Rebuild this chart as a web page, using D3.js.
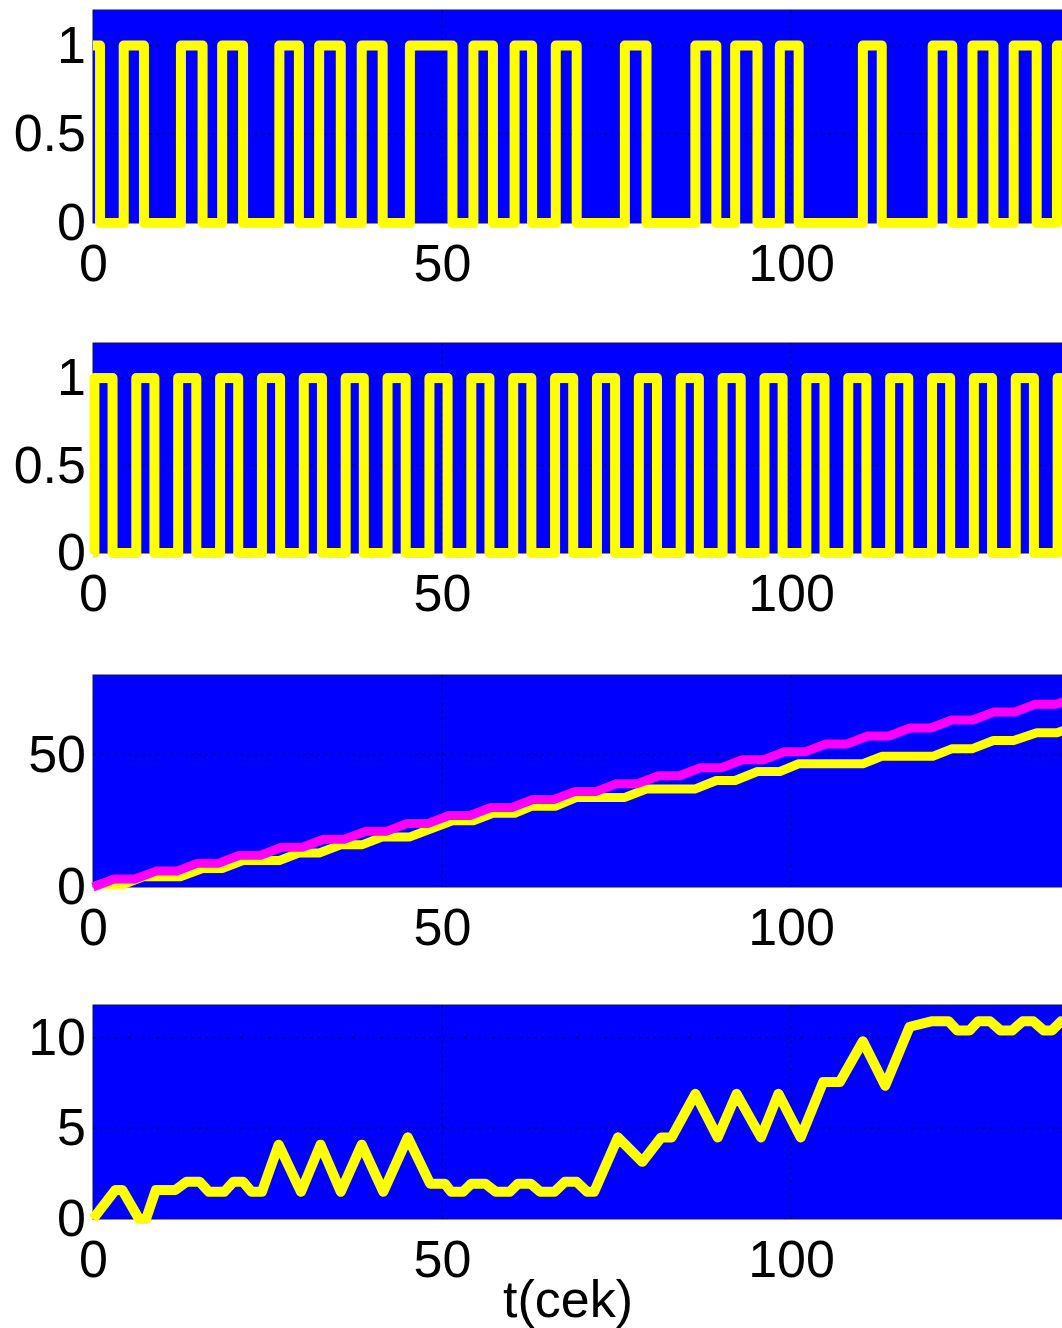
<!DOCTYPE html>
<html>
<head>
<meta charset="utf-8">
<script src="https://cdn.jsdelivr.net/npm/d3@7/dist/d3.min.js"></script>
<style>
	body { margin: 0; background: #fff; }
	svg { display: block; }
</style>
</head>
<body>
<div id="container"></div>
<script>
// 1. Access the data

const timeTicks = [0, 50, 100]

// panel 1: irregular pulse train (switch times and the level after each switch)
const pulse1Times = [0, 1, 4.4, 7.3, 12.6, 15.7, 18.5, 21.5, 26.7, 29.5, 32.4, 35.5, 38.5, 41.5, 45.4, 51.5, 54.5, 57.3, 60.4, 62.9, 66.3, 69.3, 76.2, 79.3, 86.3, 89.3, 92, 95.2, 98.4, 101.1, 110.3, 113, 120.3, 123.1, 126, 129, 131.9, 135.2, 138.1, 140]
const pulse1Levels = [1, 0, 1, 0, 1, 0, 1, 0, 1, 0, 1, 0, 1, 0, 1, 0, 1, 0, 1, 0, 1, 0, 1, 0, 1, 0, 1, 0, 1, 0, 1, 0, 1, 0, 1, 0, 1, 0, 1, 1]

// panel 2: regular pulse train
const pulse2Times = [0, 0.2, 2.8, 6.2, 8.8, 12.2, 14.8, 18.2, 20.8, 24.2, 26.8, 30.2, 32.8, 36.2, 38.8, 42.2, 44.8, 48.2, 50.8, 54.2, 56.8, 60.2, 62.8, 66.2, 68.8, 72.2, 74.8, 78.2, 80.8, 84.2, 86.8, 90.2, 92.8, 96.2, 98.8, 102.2, 104.8, 108.2, 110.8, 114.2, 116.8, 120.2, 122.8, 126.2, 128.8, 132.2, 134.8, 138.2, 140]
const pulse2Levels = [0, 1, 0, 1, 0, 1, 0, 1, 0, 1, 0, 1, 0, 1, 0, 1, 0, 1, 0, 1, 0, 1, 0, 1, 0, 1, 0, 1, 0, 1, 0, 1, 0, 1, 0, 1, 0, 1, 0, 1, 0, 1, 0, 1, 0, 1, 0, 1, 1]

// panel 3: two accumulated totals
const totalMagentaTimes = [0, 3, 6, 9, 12, 15, 18, 21, 24, 27, 30, 33, 36, 39, 42, 45, 48, 51, 54, 57, 60, 63, 66, 69, 72, 75, 78, 81, 84, 87, 90, 93, 96, 99, 102, 105, 108, 111, 114, 117, 120, 123, 126, 129, 132, 135, 138, 140]
const totalMagentaValues = [0, 3, 3, 6, 6, 9, 9, 12, 12, 15, 15, 18, 18, 21, 21, 24, 24, 27, 27, 30, 30, 33, 33, 36, 36, 39, 39, 42, 42, 45, 45, 48, 48, 51, 51, 54, 54, 57, 57, 60, 60, 63, 63, 66, 66, 69, 69, 71]
const totalYellowTimes = [0, 1, 4.4, 7.3, 12.6, 15.7, 18.5, 21.5, 26.7, 29.5, 32.4, 35.5, 38.5, 41.5, 45.4, 51.5, 54.5, 57.3, 60.4, 62.9, 66.3, 69.3, 76.2, 79.3, 86.3, 89.3, 92, 95.2, 98.4, 101.1, 110.3, 113, 120.3, 123.1, 126, 129, 131.9, 135.2, 138.1, 140]
const totalYellowValues = [0, 1, 1, 3.9, 3.9, 7, 7, 10, 10, 12.8, 12.8, 15.9, 15.9, 18.9, 18.9, 25, 25, 27.8, 27.8, 30.5, 30.5, 33.8, 33.8, 37, 37, 40.2, 40.2, 43.6, 43.6, 46.5, 46.5, 49.3, 49.3, 52.2, 52.2, 55.3, 55.3, 58.2, 58.2, 60]

// panel 4: difference signal
const diffTimes = [0, 3.2, 4.2, 6.6, 7.6, 9, 11.8, 13.4, 15.3, 16.6, 18.8, 20.1, 21.5, 22.7, 24.2, 26.6, 29.8, 32.6, 35.5, 38.5, 41.6, 45.1, 48.3, 50.4, 51.3, 53, 54.2, 56.2, 57.7, 59.7, 60.9, 62.7, 64.1, 66.1, 67.6, 69.3, 70.8, 71.8, 75.2, 78.7, 81.4, 82.9, 86.3, 89.5, 92.2, 95.7, 98.2, 101.4, 104.6, 107, 110.3, 113.5, 117, 120.1, 122.6, 123.8, 125.6, 126.8, 128.5, 130, 131.7, 133.2, 134.7, 136.2, 137.4, 138.7, 140]
const diffValues = [0, 1.6, 1.6, 0, 0, 1.6, 1.6, 2.05, 2.05, 1.5, 1.5, 2.05, 2.05, 1.5, 1.5, 4.1, 1.5, 4.1, 1.5, 4.1, 1.5, 4.5, 1.95, 1.95, 1.5, 1.5, 1.95, 1.95, 1.5, 1.5, 1.95, 1.95, 1.5, 1.5, 2.05, 2.05, 1.5, 1.5, 4.5, 3.15, 4.5, 4.5, 6.9, 4.5, 6.9, 4.5, 6.9, 4.5, 7.55, 7.55, 9.8, 7.35, 10.6, 10.9, 10.9, 10.4, 10.4, 10.9, 10.9, 10.4, 10.4, 10.9, 10.9, 10.4, 10.4, 10.9, 10.9]

// 2. Create chart dimensions
const width = 1062
const height = 1328
const left = 93
const xMax = 140
const pxPerSecond = 6.98

const panels = [
	{ top: 10, bottom: 223, yMax: 1.2, yTicks: [0, 0.5, 1],
		series: [{ t: pulse1Times, v: pulse1Levels, color: "#ffff00", width: 10, step: true }] },
	{ top: 343, bottom: 553, yMax: 1.2, yTicks: [0, 0.5, 1],
		series: [{ t: pulse2Times, v: pulse2Levels, color: "#ffff00", width: 10, step: true }] },
	{ top: 675, bottom: 887, yMax: 80, yTicks: [0, 50],
		series: [
			{ t: totalYellowTimes, v: totalYellowValues, color: "#ffff00", width: 9 },
			{ t: totalMagentaTimes, v: totalMagentaValues, color: "#ff00ff", width: 9 },
		] },
	{ top: 1005, bottom: 1219, yMax: 11.8, yTicks: [0, 5, 10],
		series: [{ t: diffTimes, v: diffValues, color: "#ffff00", width: 10 }] },
]

const font = "'Liberation Sans', Arial, Helvetica, sans-serif"
const fontSize = 52

// 3. Draw canvas
const svg = d3.select("#container")
	.append("svg")
	.attr("width", width)
	.attr("height", height)
	.style("font-family", font)

// 4. Create scales
const xScale = d3.scaleLinear()
	.domain([0, xMax])
	.range([left, left + xMax * pxPerSecond])

// 5. Draw data
panels.forEach(panel => {
	const yScale = d3.scaleLinear()
		.domain([0, panel.yMax])
		.range([panel.bottom, panel.top])

	const g = svg.append("g")

	g.append("rect")
		.attr("x", xScale(0))
		.attr("y", panel.top)
		.attr("width", xScale(xMax) - xScale(0))
		.attr("height", panel.bottom - panel.top)
		.attr("fill", "#0000ff")
		.attr("stroke", "#10105a")
		.attr("stroke-width", 1)

	// dotted grid
	g.selectAll(".vgrid")
		.data(timeTicks.filter(d => d > 0))
		.join("line")
		.attr("x1", d => xScale(d))
		.attr("x2", d => xScale(d))
		.attr("y1", panel.top)
		.attr("y2", panel.bottom)
		.attr("stroke", "#0000b4")
		.attr("stroke-width", 2)
		.attr("stroke-dasharray", "3,4")

	g.selectAll(".hgrid")
		.data(panel.yTicks.filter(d => d > 0))
		.join("line")
		.attr("x1", xScale(0))
		.attr("x2", xScale(xMax))
		.attr("y1", d => yScale(d))
		.attr("y2", d => yScale(d))
		.attr("stroke", "#0000b4")
		.attr("stroke-width", 2)
		.attr("stroke-dasharray", "3,4")

	panel.series.forEach(s => {
		const line = d3.line()
			.x(d => xScale(d[0]))
			.y(d => yScale(d[1]))
			.curve(s.step ? d3.curveStepAfter : d3.curveLinear)

		g.append("path")
			.datum(d3.zip(s.t, s.v))
			.attr("d", line)
			.attr("fill", "none")
			.attr("stroke", s.color)
			.attr("stroke-width", s.width)
			.attr("stroke-linejoin", "round")
			.attr("stroke-linecap", "butt")
	})

	// 6. Draw peripherals (axes)
	const xAxis = g.append("g")
		.attr("transform", `translate(0, ${panel.bottom})`)
		.call(d3.axisBottom(xScale).tickValues(timeTicks).tickSize(0).tickPadding(21))
	xAxis.select(".domain").remove()
	xAxis.selectAll("text")
		.attr("font-size", fontSize)
		.attr("font-family", font)
		.attr("fill", "#000")

	const yAxis = g.append("g")
		.attr("transform", `translate(${left}, 0)`)
		.call(d3.axisLeft(yScale).tickValues(panel.yTicks).tickFormat(d3.format("")).tickSize(0).tickPadding(7))
	yAxis.select(".domain").remove()
	yAxis.selectAll("text")
		.attr("font-size", fontSize)
		.attr("font-family", font)
		.attr("fill", "#000")
})

svg.append("text")
	.attr("x", 568)
	.attr("y", 1317)
	.attr("text-anchor", "middle")
	.attr("font-size", fontSize)
	.attr("fill", "#000")
	.text("t(cek)")
</script>
</body>
</html>
